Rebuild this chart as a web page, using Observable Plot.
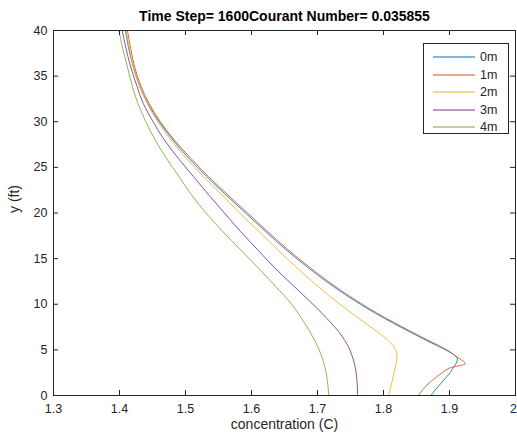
<!DOCTYPE html>
<html>
<head>
<meta charset="utf-8">
<script src="https://cdn.jsdelivr.net/npm/d3@7"></script>
<script src="https://cdn.jsdelivr.net/npm/@observablehq/plot@0.6"></script>
<style>
  html, body { margin: 0; padding: 0; background: #fff; }
  #wrap { position: relative; width: 517px; height: 441px; font-family: "Liberation Sans", Arial, sans-serif; }
  #legend { position: absolute; left: 423px; top: 43px; width: 86px; height: 91px; background: #fff; border: 1px solid #262626; box-sizing: border-box; }
  .row { position: absolute; left: 0; height: 16px; display: flex; align-items: center; font-size: 12.5px; color: #262626; }
  .row svg { margin-left: 9px; margin-right: 5px; }
</style>
</head>
<body>
<div id="wrap"><div id="chart"></div><div id="legend"></div></div>
<script>
const titleText = "Time Step= 1600Courant Number= 0.035855";
const xLabel = "concentration (C)";
const yLabel = "y (ft)";
const seriesNames = ["0m", "1m", "2m", "3m", "4m"];
const seriesColors = ["#0072BD", "#D95319", "#EDB120", "#7E2F8E", "#77AC30"];
const xTicks = [1.3, 1.4, 1.5, 1.6, 1.7, 1.8, 1.9, 2.0];
const yTicks = [0, 5, 10, 15, 20, 25, 30, 35, 40];

const yFt = [0, 0.5, 1, 1.5, 2, 2.5, 3, 3.5, 4, 4.5, 5, 6, 7, 8, 9, 10, 12, 14, 16, 18, 20, 22, 24, 26, 28, 30, 32, 34, 36, 38, 40];
const c0m = [1.872, 1.877, 1.883, 1.889, 1.895, 1.901, 1.905, 1.910, 1.912, 1.906, 1.894, 1.866, 1.839, 1.813, 1.788, 1.765, 1.723, 1.686, 1.652, 1.621, 1.591, 1.561, 1.532, 1.505, 1.481, 1.460, 1.443, 1.430, 1.421, 1.414, 1.409];
const c1m = [1.853, 1.858, 1.864, 1.871, 1.880, 1.889, 1.900, 1.924, 1.916, 1.906, 1.896, 1.869, 1.842, 1.816, 1.791, 1.768, 1.726, 1.689, 1.655, 1.624, 1.594, 1.564, 1.535, 1.508, 1.483, 1.462, 1.445, 1.432, 1.423, 1.417, 1.412];
const c2m = [1.808, 1.8095, 1.811, 1.813, 1.8145, 1.816, 1.8175, 1.819, 1.820, 1.8205, 1.8185, 1.8075, 1.7905, 1.771, 1.752, 1.734, 1.700, 1.669, 1.639, 1.611, 1.582, 1.555, 1.527, 1.501, 1.478, 1.458, 1.442, 1.430, 1.421, 1.415, 1.410];
const c3m = [1.7607, 1.7606, 1.7604, 1.760, 1.7593, 1.7585, 1.7573, 1.756, 1.754, 1.7517, 1.749, 1.7417, 1.732, 1.720, 1.707, 1.693, 1.664, 1.635, 1.609, 1.583, 1.559, 1.535, 1.512, 1.489, 1.468, 1.451, 1.436, 1.426, 1.417, 1.410, 1.404];
const c4m = [1.717, 1.7165, 1.716, 1.7152, 1.7142, 1.713, 1.7115, 1.7097, 1.7077, 1.7053, 1.7025, 1.696, 1.6885, 1.680, 1.671, 1.661, 1.636, 1.610, 1.583, 1.556, 1.531, 1.509, 1.490, 1.471, 1.454, 1.440, 1.428, 1.419, 1.412, 1.405, 1.399];

const seriesValues = [c0m, c1m, c2m, c3m, c4m];
const rows = [];
seriesNames.forEach((name, i) => {
  yFt.forEach((y, j) => rows.push({series: name, y, c: seriesValues[i][j]}));
});

const axisColor = "#262626";
const W = 517, H = 441, mL = 53, mR = 2, mT = 30, mB = 46;
const plotW = W - mL - mR, plotH = H - mT - mB;
const tickLen = 5;
const fmtX = d => String(+d.toFixed(1));

const chart = Plot.plot({
  width: W, height: H,
  marginLeft: mL, marginRight: mR, marginTop: mT, marginBottom: mB,
  style: {fontFamily: "'Liberation Sans', Arial, sans-serif", background: "#fff", color: axisColor},
  x: {domain: [1.3, 2.0], axis: null},
  y: {domain: [0, 40], axis: null},
  color: {domain: seriesNames, range: seriesColors},
  marks: [
    Plot.line(rows, {x: "c", y: "y", z: "series", stroke: "series", strokeWidth: 0.85, curve: "monotone-y"}),
    Plot.frame({stroke: axisColor, strokeWidth: 1}),
    Plot.tickX(xTicks, {x: d => d, insetTop: plotH - tickLen, stroke: axisColor}),
    Plot.tickX(xTicks, {x: d => d, insetBottom: plotH - tickLen, stroke: axisColor}),
    Plot.tickY(yTicks, {y: d => d, insetRight: plotW - tickLen, stroke: axisColor}),
    Plot.tickY(yTicks, {y: d => d, insetLeft: plotW - tickLen, stroke: axisColor}),
    Plot.text(xTicks.slice(0, -1), {x: d => d, frameAnchor: "bottom", dy: 17, text: fmtX, fontSize: 12.5, fill: axisColor}),
    Plot.text(xTicks.slice(-1), {x: d => d, frameAnchor: "bottom", dy: 17, dx: -2, text: fmtX, fontSize: 12.5, fill: axisColor}),
    Plot.text(yTicks, {y: d => d, frameAnchor: "left", dx: -6, textAnchor: "end", text: d => String(d), fontSize: 12.5, fill: axisColor}),
    Plot.text([titleText], {frameAnchor: "top", dy: -19, fontWeight: "bold", fontSize: 14, fill: "#000"}),
    Plot.text([xLabel], {frameAnchor: "bottom", dy: 33, fontSize: 14, fill: axisColor}),
    Plot.text([yLabel], {frameAnchor: "left", dx: -39, rotate: -90, fontSize: 14, fill: axisColor})
  ]
});
document.getElementById("chart").appendChild(chart);

const legend = document.getElementById("legend");
seriesNames.forEach((name, i) => {
  const row = document.createElement("div");
  row.className = "row";
  row.style.top = (5 + i * 17.5) + "px";
  row.innerHTML = `<svg width="42" height="4"><line x1="0" y1="2" x2="42" y2="2" stroke="${seriesColors[i]}" stroke-width="1"/></svg><span>${name}</span>`;
  legend.appendChild(row);
});
</script>
</body>
</html>
